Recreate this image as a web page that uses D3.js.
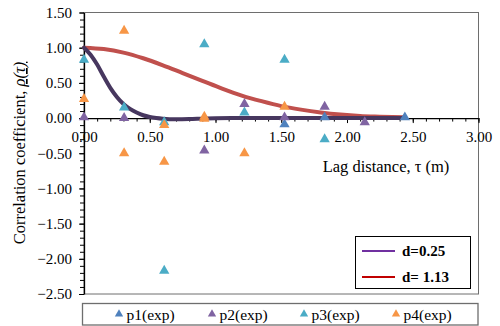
<!DOCTYPE html>
<html>
<head>
<meta charset="utf-8">
<script src="https://cdn.jsdelivr.net/npm/d3@7"></script>
<style>
  body { margin: 0; background: #fff; }
</style>
</head>
<body>
<svg id="chart" width="500" height="326" font-family="'Liberation Serif', 'Times New Roman', serif"></svg>
<script>
// experimental points, [lag (m), rho]
var p1 = [[1.525, -0.09], [1.83, 0.01], [2.44, 0.01]];
var p2 = [[0, 0.01], [0.305, 0.0], [0.915, -0.46], [1.22, 0.2], [1.525, 0.01], [1.83, 0.16], [2.135, -0.06]];
var p3 = [[0, 0.83], [0.305, 0.15], [0.61, -0.06], [0.61, -2.17], [0.915, 1.05], [1.22, 0.08], [1.525, 0.83], [1.83, -0.30]];
var p4 = [[0, 0.27], [0.305, 1.24], [0.305, -0.5], [0.61, -0.1], [0.61, -0.62], [0.915, 0.02], [0.915, -0.01], [1.22, -0.5], [1.525, 0.16]];

// fitted curves
var fit025 = [[0, 1.0], [0.05, 0.9], [0.1, 0.76], [0.15, 0.59], [0.2, 0.43], [0.25, 0.3], [0.3, 0.2], [0.35, 0.13],
              [0.4, 0.08], [0.45, 0.04], [0.5, 0.015], [0.55, 0.0], [0.6, -0.01], [0.7, -0.018], [0.8, -0.015],
              [0.9, -0.008], [1.0, -0.002], [1.2, 0.0], [1.5, 0.0], [2.0, 0.0], [2.44, 0.0]];
var fit113 = [[0, 1.0], [0.15, 0.98], [0.3, 0.93], [0.45, 0.85], [0.6, 0.75], [0.75, 0.64], [0.9, 0.53], [1.05, 0.42],
              [1.2, 0.32], [1.35, 0.24], [1.5, 0.17], [1.65, 0.12], [1.8, 0.08], [1.95, 0.05], [2.1, 0.03],
              [2.25, 0.02], [2.44, 0.01]];

var xTicks = [0, 0.5, 1.0, 1.5, 2.0, 2.5, 3.0];
var yTicks = [1.5, 1.0, 0.5, 0.0, -0.5, -1.0, -1.5, -2.0, -2.5];

var seriesNames = ['p1(exp)', 'p2(exp)', 'p3(exp)', 'p4(exp)'];
var seriesColors = ['#4f81bd', '#8064a2', '#4bacc6', '#f79646'];

var serif = "'Liberation Serif', 'Times New Roman', serif";
var svg = d3.select('#chart');
var x = d3.scaleLinear().domain([0, 3]).range([84, 478.5]);
var y = d3.scaleLinear().domain([-2.5, 1.5]).range([294, 12.5]);
var fmt = d3.format('.2f');

// plot area frame
svg.append('rect')
    .attr('x', x(0)).attr('y', y(1.5))
    .attr('width', x(3) - x(0)).attr('height', y(-2.5) - y(1.5))
    .attr('fill', 'none').attr('stroke', '#6e6e6e').attr('stroke-width', 1);

// minor ticks
var minorY = d3.range(-25, 16).map(function(d){ return d / 10; });
var minorX = d3.range(0, 31).map(function(d){ return d / 10; });

svg.append('g')
    .attr('transform', 'translate(' + x(0) + ',0)')
    .call(d3.axisLeft(y).tickValues(minorY).tickSize(4).tickFormat(''))
    .call(function(g){ g.select('.domain').remove(); });
svg.append('g')
    .attr('transform', 'translate(0,' + y(0) + ')')
    .call(d3.axisBottom(x).tickValues(minorX).tickSize(3.5).tickFormat(''))
    .call(function(g){ g.select('.domain').remove(); });

// major axes
var yAxis = svg.append('g')
    .attr('transform', 'translate(' + x(0) + ',0)')
    .call(d3.axisLeft(y).tickValues(yTicks).tickSize(5).tickSizeOuter(0).tickFormat(fmt))
    .attr('font-family', serif).attr('font-size', 15);
yAxis.selectAll('text').attr('x', -12).attr('fill', '#000');

var xAxis = svg.append('g')
    .attr('transform', 'translate(0,' + y(0) + ')')
    .call(d3.axisBottom(x).tickValues(xTicks).tickSize(5).tickSizeOuter(0).tickFormat(fmt))
    .attr('font-family', serif).attr('font-size', 15);
xAxis.selectAll('text').attr('y', 13.5).attr('fill', '#000');
svg.selectAll('.domain').attr('stroke', '#000').attr('stroke-width', 1.3);

// axis titles
svg.append('text')
    .attr('x', 386).attr('y', 172)
    .attr('text-anchor', 'middle').attr('font-size', 16.5)
    .text('Lag distance, τ (m)');

var yt = svg.append('text')
    .attr('transform', 'translate(25,153) rotate(-90)')
    .attr('text-anchor', 'middle').attr('font-size', 16.5);
yt.append('tspan').text('Correlation coefficient, ');
yt.append('tspan').attr('font-style', 'italic')
    .style('text-decoration', 'underline wavy #2a3cff')
    .text('ρ(τ)');

// fitted lines
var line = d3.line()
    .x(function(d){ return x(d[0]); })
    .y(function(d){ return y(d[1]); })
    .curve(d3.curveMonotoneX);

svg.append('path').datum(fit113)
    .attr('d', line).attr('fill', 'none')
    .attr('stroke', '#c0504d').attr('stroke-width', 4).attr('stroke-linecap', 'round');
svg.append('path').datum(fit025)
    .attr('d', line).attr('fill', 'none')
    .attr('stroke', '#47375f').attr('stroke-width', 4).attr('stroke-linecap', 'round');

// experimental points
var tri = d3.symbol().type(d3.symbolTriangle).size(46);
[p1, p2, p3, p4].forEach(function(pts, i){
    svg.append('g').selectAll('path')
        .data(pts).enter().append('path')
        .attr('d', tri)
        .attr('transform', function(d){ return 'translate(' + x(d[0]) + ',' + y(d[1]) + ')'; })
        .attr('fill', seriesColors[i]);
});

// legend for fits
var lg = svg.append('g');
lg.append('rect')
    .attr('x', 355.5).attr('y', 236.5).attr('width', 115).attr('height', 52)
    .attr('fill', '#fff').attr('stroke', '#000').attr('stroke-width', 1);
var fitLegend = [['d=0.25', '#7030a0', 251], ['d= 1.13', '#c00000', 277]];
fitLegend.forEach(function(f){
    lg.append('line')
        .attr('x1', 362).attr('x2', 395).attr('y1', f[2]).attr('y2', f[2])
        .attr('stroke', f[1]).attr('stroke-width', 2);
    lg.append('text')
        .attr('x', 402).attr('y', f[2] + 5)
        .attr('font-size', 15).attr('font-weight', 'bold')
        .text(f[0]);
});

// legend for points
var lb = svg.append('g');
lb.append('rect')
    .attr('x', 82.5).attr('y', 303.5).attr('width', 395.5).attr('height', 21.5)
    .attr('fill', '#fff').attr('stroke', '#6e6e6e').attr('stroke-width', 1.3);
var legX = [119, 212, 304, 396];
seriesNames.forEach(function(n, i){
    lb.append('path')
        .attr('d', d3.symbol().type(d3.symbolTriangle).size(30))
        .attr('transform', 'translate(' + legX[i] + ',314)')
        .attr('fill', seriesColors[i]);
    lb.append('text')
        .attr('x', legX[i] + 7.5).attr('y', 319.5)
        .attr('font-size', 15.5)
        .text(n);
});
</script>
</body>
</html>
